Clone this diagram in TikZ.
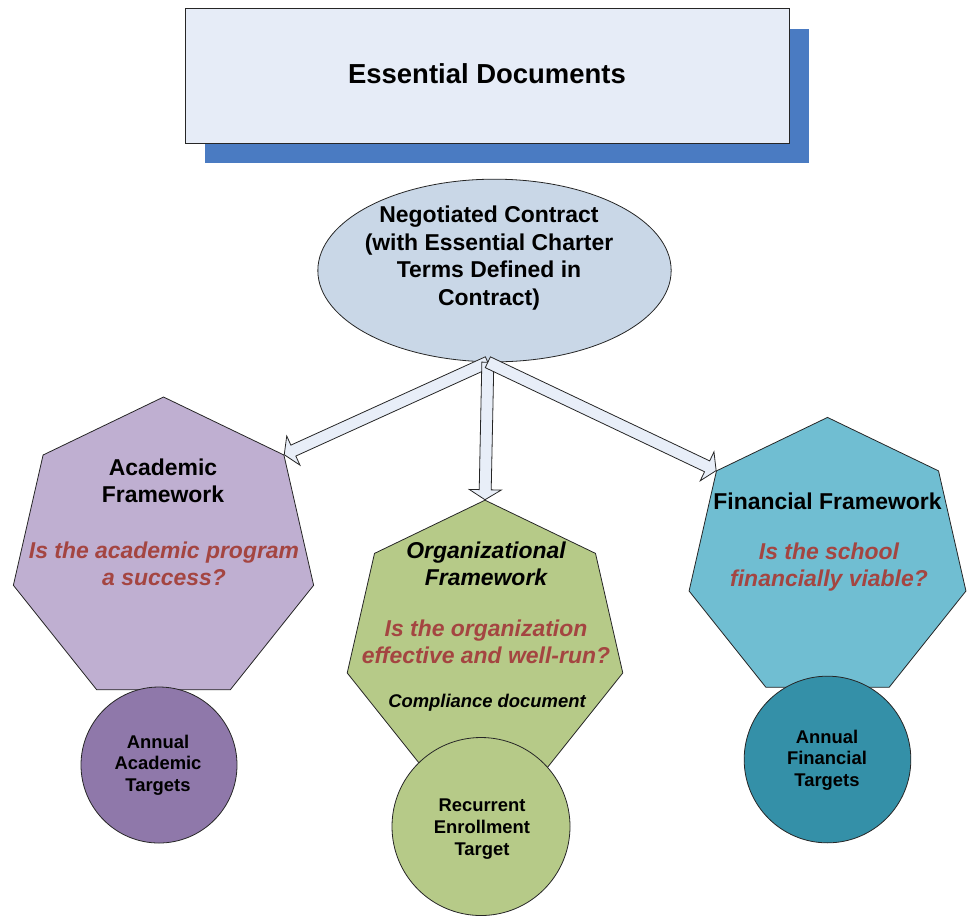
\documentclass[tikz,border=0pt]{standalone}
\usepackage{fontspec}
\setmainfont{Liberation Sans}
\usetikzlibrary{calc,positioning,shapes.geometric}
\definecolor{titlefill}{HTML}{E6ECF7}
\definecolor{titleshadow}{HTML}{4A7BC2}
\definecolor{contractfill}{HTML}{C9D7E7}
\definecolor{arrowfill}{HTML}{E8EEF8}
\definecolor{acadfill}{HTML}{BFAFD1}
\definecolor{acaddark}{HTML}{8F78AA}
\definecolor{orgfill}{HTML}{B6CA88}
\definecolor{finfill}{HTML}{70BED2}
\definecolor{findark}{HTML}{3490A8}
\definecolor{question}{HTML}{A44541}
\newcommand{\bigfont}{\fontsize{17.2pt}{20.6pt}\selectfont}
\newcommand{\smallfont}{\fontsize{13.8pt}{16.3pt}\selectfont}
\newcommand{\blockarrow}[2]{%
  \coordinate (headbase) at ($(#2)!7.5pt!(#1)$);
  \draw [blockarrow] ($(#1)!4.5pt!90:(#2)$) -- ($(headbase)!4.5pt!90:(#2)$)
    -- ($(headbase)!12pt!90:(#2)$) -- (#2) -- ($(headbase)!12pt!-90:(#2)$)
    -- ($(headbase)!4.5pt!-90:(#2)$) -- ($(#1)!4.5pt!-90:(#2)$) -- cycle;
}
\tikzset{
  outline/.style={draw=black!85,line width=0.6pt},
  shadowbox/.style={fill=titleshadow,minimum width=453pt,minimum height=101pt},
  titlebox/.style={outline,fill=titlefill,minimum width=453pt,minimum height=101pt},
  contract/.style={outline,ellipse,fill=contractfill,minimum width=265pt,minimum height=137pt,inner sep=0},
  frame/.style={outline,regular polygon,regular polygon sides=7,inner sep=0},
  target/.style={outline,circle,inner sep=0},
  heading/.style={font=\bfseries\bigfont,align=center},
  ask/.style={font=\bfseries\itshape\bigfont,align=center,text=question},
  label/.style={font=\bfseries\smallfont,align=center},
  blockarrow/.style={outline,fill=arrowfill,line join=miter}
}
\begin{document}
\begin{tikzpicture}[x=0.75pt,y=-0.75pt]
    \useasboundingbox (0,0) rectangle (973,915);

    % title with its shadow
    \node (shadow) [shadowbox] at (507,96) {};
    \node (title) [titlebox] at ([shift={(-15pt,15.3pt)}]shadow.center) {};
    \node (titletext) [font=\bfseries\fontsize{20.6pt}{24pt}\selectfont,anchor=base] at (487,83) {Essential Documents};

    % contract
    \node (contract) [contract] at (494.5,270.5) {};
    \node (contracttext) [heading] at (489,258) {Negotiated Contract\\(with Essential Charter\\Terms Defined in\\Contract)};

    % the three frameworks
    \node (acad) [frame,fill=acadfill,minimum size=231pt] at (163.5,551) {};
    \node (org) [frame,fill=orgfill,minimum size=212pt] at (485,641.5) {};
    \node (fin) [frame,fill=finfill,minimum size=213pt] at (827.5,559.4) {};

    \node (acadhead) [heading] at (163,481) {Academic\\Framework};
    \node (acadask) [ask] at (164,564) {Is the academic program\\a success?};
    \node (orghead) [heading,font=\bfseries\itshape\bigfont] at (486,564) {Organizational\\Framework};
    \node (orgask) [ask] at (486,642) {Is the organization\\effective and well-run?};
    \node (orgnote) [font=\bfseries\itshape\smallfont,anchor=base] at (487,707) {Compliance document};
    \node (finhead) [heading,anchor=base] at (827.5,509) {Financial Framework};
    \node (finask) [ask] at (829,567) {Is the school\\financially viable?};

    % targets
    \node (acadtarget) [target,fill=acaddark,minimum size=117pt] at (159,765) {};
    \node (orgtarget) [target,fill=orgfill,minimum size=133.5pt] at (481,826.5) {};
    \node (fintarget) [target,fill=findark,minimum size=125pt] at (827.5,759.5) {};
    \node (acadtargettext) [label] at (158,765) {Annual\\Academic\\Targets};
    \node (orgtargettext) [label] at (482,829) {Recurrent\\Enrollment\\Target};
    \node (fintargettext) [label] at (827,760) {Annual\\Financial\\Targets};

    % arrows
    \coordinate (fork) at ([xshift=-5pt]contract.south);
    \blockarrow{fork}{acad.corner 7}
    \blockarrow{fork}{org.corner 1}
    \blockarrow{fork}{fin.corner 2}
\end{tikzpicture}
\end{document}
